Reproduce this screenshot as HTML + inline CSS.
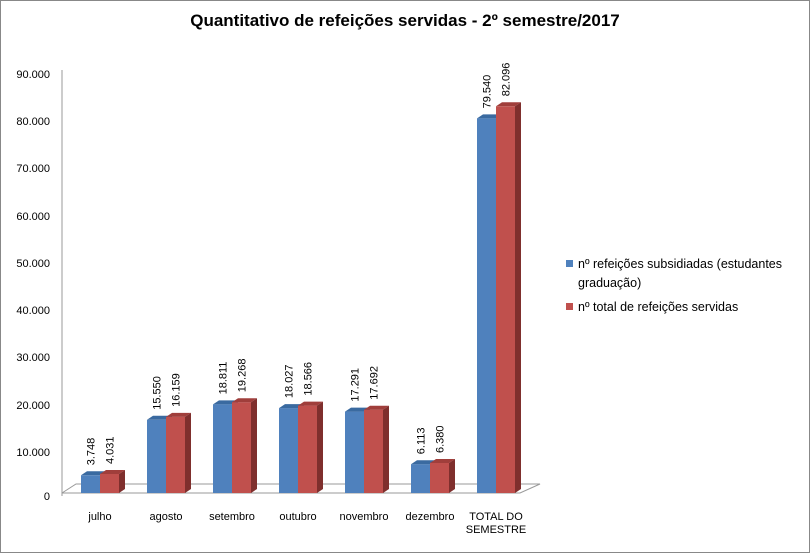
<!DOCTYPE html>
<html><head><meta charset="utf-8"><style>
body{margin:0;background:#fff}
svg{display:block;font-family:"Liberation Sans",sans-serif}
</style></head><body>
<svg width="810" height="553" viewBox="0 0 810 553" xmlns="http://www.w3.org/2000/svg">
<rect x="0.5" y="0.5" width="809" height="552" fill="#fff" stroke="#888"/>
<text x="405" y="26" text-anchor="middle" font-size="17" font-weight="bold" fill="#000">Quantitativo  de refeições servidas - 2º semestre/2017</text>
<line x1="62" y1="70" x2="62" y2="496" stroke="#999"/>
<polyline points="62,493 76,484 540,484 520,493 62,493" fill="none" stroke="#999"/>
<g font-size="11" fill="#000" text-anchor="end">
<text x="50" y="500">0</text>
<text x="50" y="456">10.000</text>
<text x="50" y="409">20.000</text>
<text x="50" y="361">30.000</text>
<text x="50" y="314">40.000</text>
<text x="50" y="267">50.000</text>
<text x="50" y="220">60.000</text>
<text x="50" y="172">70.000</text>
<text x="50" y="125">80.000</text>
<text x="50" y="78">90.000</text>
</g>
<defs>
<g id="x"></g>
</defs>
<g font-size="11" fill="#000">
<!-- blue bars -->
<g transform="translate(81,475.3)"><rect width="19" height="17.7" fill="#4f81bd"/><polygon points="0,0 6,-4 25,-4 19,0" fill="#3a6aa0"/><polygon points="19,0 25,-4 25,13.7 19,17.7" fill="#2f5786"/><text transform="translate(13.5,-10) rotate(-90)">3.748</text></g>
<g transform="translate(100,474)"><rect width="19" height="19" fill="#c0504d"/><polygon points="0,0 6,-4 25,-4 19,0" fill="#a03e3b"/><polygon points="19,0 25,-4 25,15 19,19" fill="#7f2f2d"/><text transform="translate(13.5,-10) rotate(-90)">4.031</text></g>

<g transform="translate(147,419.8)"><rect width="19" height="73.2" fill="#4f81bd"/><polygon points="0,0 6,-4 25,-4 19,0" fill="#3a6aa0"/><polygon points="19,0 25,-4 25,69.2 19,73.2" fill="#2f5786"/><text transform="translate(13.5,-10) rotate(-90)">15.550</text></g>
<g transform="translate(166,416.9)"><rect width="19" height="76.1" fill="#c0504d"/><polygon points="0,0 6,-4 25,-4 19,0" fill="#a03e3b"/><polygon points="19,0 25,-4 25,72.1 19,76.1" fill="#7f2f2d"/><text transform="translate(13.5,-10) rotate(-90)">16.159</text></g>

<g transform="translate(213,404.4)"><rect width="19" height="88.6" fill="#4f81bd"/><polygon points="0,0 6,-4 25,-4 19,0" fill="#3a6aa0"/><polygon points="19,0 25,-4 25,84.6 19,88.6" fill="#2f5786"/><text transform="translate(13.5,-10) rotate(-90)">18.811</text></g>
<g transform="translate(232,402.2)"><rect width="19" height="90.8" fill="#c0504d"/><polygon points="0,0 6,-4 25,-4 19,0" fill="#a03e3b"/><polygon points="19,0 25,-4 25,86.8 19,90.8" fill="#7f2f2d"/><text transform="translate(13.5,-10) rotate(-90)">19.268</text></g>

<g transform="translate(279,408.1)"><rect width="19" height="84.9" fill="#4f81bd"/><polygon points="0,0 6,-4 25,-4 19,0" fill="#3a6aa0"/><polygon points="19,0 25,-4 25,80.9 19,84.9" fill="#2f5786"/><text transform="translate(13.5,-10) rotate(-90)">18.027</text></g>
<g transform="translate(298,405.6)"><rect width="19" height="87.4" fill="#c0504d"/><polygon points="0,0 6,-4 25,-4 19,0" fill="#a03e3b"/><polygon points="19,0 25,-4 25,83.4 19,87.4" fill="#7f2f2d"/><text transform="translate(13.5,-10) rotate(-90)">18.566</text></g>

<g transform="translate(345,411.6)"><rect width="19" height="81.4" fill="#4f81bd"/><polygon points="0,0 6,-4 25,-4 19,0" fill="#3a6aa0"/><polygon points="19,0 25,-4 25,77.4 19,81.4" fill="#2f5786"/><text transform="translate(13.5,-10) rotate(-90)">17.291</text></g>
<g transform="translate(364,409.7)"><rect width="19" height="83.3" fill="#c0504d"/><polygon points="0,0 6,-4 25,-4 19,0" fill="#a03e3b"/><polygon points="19,0 25,-4 25,79.3 19,83.3" fill="#7f2f2d"/><text transform="translate(13.5,-10) rotate(-90)">17.692</text></g>

<g transform="translate(411,464.2)"><rect width="19" height="28.8" fill="#4f81bd"/><polygon points="0,0 6,-4 25,-4 19,0" fill="#3a6aa0"/><polygon points="19,0 25,-4 25,24.8 19,28.8" fill="#2f5786"/><text transform="translate(13.5,-10) rotate(-90)">6.113</text></g>
<g transform="translate(430,463)"><rect width="19" height="30" fill="#c0504d"/><polygon points="0,0 6,-4 25,-4 19,0" fill="#a03e3b"/><polygon points="19,0 25,-4 25,26 19,30" fill="#7f2f2d"/><text transform="translate(13.5,-10) rotate(-90)">6.380</text></g>

<g transform="translate(477,118.4)"><rect width="19" height="374.6" fill="#4f81bd"/><polygon points="0,0 6,-4 25,-4 19,0" fill="#3a6aa0"/><polygon points="19,0 25,-4 25,370.6 19,374.6" fill="#2f5786"/><text transform="translate(13.5,-10) rotate(-90)">79.540</text></g>
<g transform="translate(496,106.3)"><rect width="19" height="386.7" fill="#c0504d"/><polygon points="0,0 6,-4 25,-4 19,0" fill="#a03e3b"/><polygon points="19,0 25,-4 25,382.7 19,386.7" fill="#7f2f2d"/><text transform="translate(13.5,-10) rotate(-90)">82.096</text></g>
</g>
<g font-size="11" fill="#000" text-anchor="middle">
<text x="100" y="520">julho</text>
<text x="166" y="520">agosto</text>
<text x="232" y="520">setembro</text>
<text x="298" y="520">outubro</text>
<text x="364" y="520">novembro</text>
<text x="430" y="520">dezembro</text>
<text x="496" y="520">TOTAL DO</text>
<text x="496" y="533">SEMESTRE</text>
</g>
<rect x="566" y="260" width="7" height="7" fill="#4f81bd"/>
<text x="578" y="268" font-size="12.5">nº refeições subsidiadas (estudantes</text>
<text x="578" y="287" font-size="12.5">graduação)</text>
<rect x="566" y="303" width="7" height="7" fill="#c0504d"/>
<text x="578" y="311" font-size="12.5">nº total de refeições servidas</text>
</svg>
</body></html>
